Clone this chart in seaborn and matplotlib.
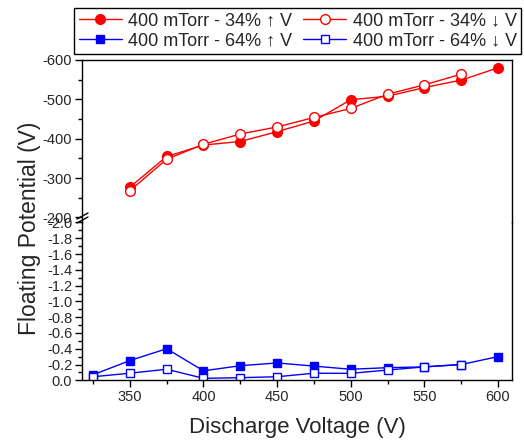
import matplotlib
matplotlib.use("Agg")
import matplotlib.pyplot as plt
import seaborn as sns
from matplotlib.lines import Line2D
from matplotlib.ticker import MultipleLocator

# ---------------- data ----------------
red_up_x = [350, 375, 400, 425, 450, 475, 500, 525, 550, 575, 600]
red_up_y = [-277, -355, -384, -393, -418, -445, -499, -508, -530, -549, -580]
red_dn_x = [350, 375, 400, 425, 450, 475, 500, 525, 550, 575]
red_dn_y = [-268, -348, -386, -412, -430, -454, -477, -513, -537, -564]

blue_up_x = [325, 350, 375, 400, 425, 450, 475, 500, 525, 550, 575, 600]
blue_up_y = [-0.07, -0.25, -0.40, -0.12, -0.185, -0.22, -0.18, -0.14, -0.16, -0.17, -0.20, -0.30]
blue_dn_x = [325, 350, 375, 400, 425, 450, 475, 500, 525, 550, 575]
blue_dn_y = [-0.045, -0.09, -0.14, -0.025, -0.033, -0.045, -0.09, -0.088, -0.13, -0.17, -0.20]

labels = ["400 mTorr - 34% \u2191 V", "400 mTorr - 34% \u2193 V",
          "400 mTorr - 64% \u2191 V", "400 mTorr - 64% \u2193 V"]
x_ticks = [350, 400, 450, 500, 550, 600]
upper_ticks = [-200, -300, -400, -500, -600]
lower_ticks = [0.0, -0.2, -0.4, -0.6, -0.8, -1.0, -1.2, -1.4, -1.6, -1.8, -2.0]

# ---------------- style ----------------
sns.set_style("ticks")
plt.rcParams["font.family"] = ["Liberation Sans", "DejaVu Sans"]
plt.rcParams["axes.unicode_minus"] = False
plt.rcParams["xtick.direction"] = "out"
plt.rcParams["ytick.direction"] = "out"

W, H = 524, 441
fig = plt.figure(figsize=(W / 100, H / 100), dpi=100)

def px_axes(left, top, right, bottom):
    return fig.add_axes([left / W, 1 - bottom / H, (right - left) / W, (bottom - top) / H])

ax_top = px_axes(82, 60, 512, 217.5)
ax_bot = px_axes(82, 222.5, 512, 380.3)

RED = "#FF0000"
BLUE = "#0000FF"
lw = 1.0

sns.lineplot(x=red_up_x, y=red_up_y, ax=ax_top, color=RED, lw=lw, marker="o",
             markersize=7, markerfacecolor=RED, markeredgecolor=RED, markeredgewidth=1)
sns.lineplot(x=red_dn_x, y=red_dn_y, ax=ax_top, color=RED, lw=lw, marker="o",
             markersize=7, markerfacecolor="white", markeredgecolor=RED, markeredgewidth=1)
sns.lineplot(x=blue_up_x, y=blue_up_y, ax=ax_bot, color=BLUE, lw=lw, marker="s",
             markersize=6, markerfacecolor=BLUE, markeredgecolor=BLUE, markeredgewidth=1)
sns.lineplot(x=blue_dn_x, y=blue_dn_y, ax=ax_bot, color=BLUE, lw=lw, marker="s",
             markersize=6, markerfacecolor="white", markeredgecolor=BLUE, markeredgewidth=1)

xlim = (317.5, 609.5)
for ax in (ax_top, ax_bot):
    ax.set_xlim(*xlim)
    for s in ax.spines.values():
        s.set_color("black")
        s.set_linewidth(1.0)
    ax.tick_params(which="major", length=5, width=1, labelsize=10.5, color="black", pad=2)
    ax.tick_params(which="minor", length=3, width=1, color="black")
    ax.set_xlabel("")
    ax.set_ylabel("")

ax_top.set_ylim(-200, -600)
ax_top.set_yticks(upper_ticks)
ax_top.set_yticklabels([str(v) for v in upper_ticks])
ax_top.yaxis.set_minor_locator(MultipleLocator(50))
ax_top.spines["bottom"].set_visible(False)
ax_top.tick_params(axis="x", which="both", bottom=False, labelbottom=False)

ax_bot.set_ylim(0, -2.0)
ax_bot.set_yticks(lower_ticks)
ax_bot.set_yticklabels(["%.1f" % v if v != 0 else "0.0" for v in lower_ticks])
ax_bot.yaxis.set_minor_locator(MultipleLocator(0.1))
ax_bot.spines["top"].set_visible(False)
ax_bot.set_xticks(x_ticks)
ax_bot.xaxis.set_minor_locator(MultipleLocator(25))

ax_bot.set_xlabel("Discharge Voltage (V)", fontsize=16, labelpad=9)
fig.text(30 / W, 1 - 228 / H, "Floating Potential (V)", rotation=90, fontsize=16.5,
         ha="center", va="center")

# connect spines across break, draw break marks on left
def fpx(x, y):
    return x / W, 1 - y / H
fig.add_artist(Line2D([512 / W, 512 / W], [1 - 217.5 / H, 1 - 222.5 / H],
                      color="black", lw=1.0))
fig.add_artist(Line2D([82 / W, 82 / W], [1 - 217.5 / H, 1 - 222.5 / H],
                      color="black", lw=1.0))
for dy in (0, 4):
    (x0, y0), (x1, y1) = fpx(77, 219 + dy), fpx(88, 213 + dy)
    fig.add_artist(Line2D([x0, x1], [y0, y1], color="black", lw=1.0))

# legend
handles = [
    Line2D([], [], color=RED, lw=lw, marker="o", markersize=7, markerfacecolor=RED, markeredgecolor=RED),
    Line2D([], [], color=BLUE, lw=lw, marker="s", markersize=6, markerfacecolor=BLUE, markeredgecolor=BLUE),
    Line2D([], [], color=RED, lw=lw, marker="o", markersize=7, markerfacecolor="white", markeredgecolor=RED),
    Line2D([], [], color=BLUE, lw=lw, marker="s", markersize=6, markerfacecolor="white", markeredgecolor=BLUE),
]
leg_labels = [labels[0], labels[2], labels[1], labels[3]]
leg = fig.legend(handles, leg_labels, ncol=2, loc="upper left",
                 bbox_to_anchor=(74 / W, 1 - 8 / H), fontsize=13, frameon=True,
                 fancybox=False, edgecolor="black", framealpha=1,
                 handlelength=2.4, handletextpad=0.35, columnspacing=0.6,
                 labelspacing=0.15, borderpad=0.25, borderaxespad=0)
leg.get_frame().set_linewidth(1.0)

fig.savefig("out.png", dpi=100)
